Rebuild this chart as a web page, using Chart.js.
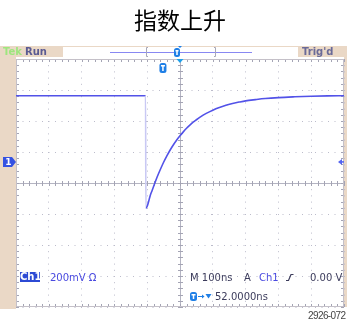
<!DOCTYPE html>
<html><head><meta charset="utf-8">
<script src="https://cdn.jsdelivr.net/npm/chart.js@4/dist/chart.umd.min.js"></script>
<style>
html,body{margin:0;padding:0;background:#fff;}
#wrap{position:relative;width:347px;height:323px;overflow:hidden;}
canvas{position:absolute;left:0;top:0;}
.t{position:absolute;white-space:nowrap;font-family:"DejaVu Sans",sans-serif;font-size:10px;line-height:10px;}
.b{font-weight:bold;}
</style></head><body>
<div id="wrap">
<canvas id="c" width="347" height="323"></canvas>
<div class="t b" style="left:3px;top:47px;color:#9ee67e;">Tek</div>
<div class="t b" style="left:25px;top:47px;color:#5a5a92;">Run</div>
<div class="t b" style="left:302px;top:47px;color:#6a6a98;">Trig'd</div>
<div class="t b" style="left:20px;top:272px;width:20px;height:10px;background:#2c4ad4;color:#fff;text-align:center;">Ch1</div>
<div class="t" style="left:50px;top:273px;color:#4a4ae0;">200mV Ω</div>
<div class="t" style="left:190px;top:273px;color:#3c3c5c;">M 100ns</div>
<div class="t" style="left:244px;top:273px;color:#3c3c5c;">A</div>
<div class="t" style="left:259px;top:273px;color:#4a4ae0;">Ch1</div>
<div class="t" style="left:310px;top:273px;color:#3c3c5c;">0.00 V</div>
<div class="t" style="left:215px;top:292px;color:#3c3c5c;">52.0000ns</div>
<div class="t" style="left:308px;top:311px;color:#444;font-family:'Liberation Sans',sans-serif;font-size:10px;letter-spacing:-0.6px;">2926-072</div>
</div>
<script>
// ---- data (time relative to screen centre, ns; Ch1 voltage, mV) ----
const timeNs = [-500, -105, -104, -100, -95, -90, -85, -80, -70, -60, -50, -40, -30, -20, -10, 0, 10, 20, 30, 40, 50, 60, 80, 100, 120, 140, 160, 180, 200, 230, 260, 300, 350, 400, 450, 500];
const ch1mV  = [ 427,  427, -298, -286, -250, -212, -184, -155, -99, -49, -2,  39,  77, 111, 142, 169, 194, 217, 237, 256, 272, 287, 313, 334, 351, 365, 377, 386, 394, 402, 409, 415, 420, 424, 426, 427];
const timeTicksNs = [-500, -400, -300, -200, -100, 0, 100, 200, 300, 400, 500];
const voltDivMV = 200;          // 200 mV/div
const groundAboveCentreDiv = 0.68;
const triggerTimeNs = -52;      // T -> 52.0000ns
const triggerLevelMV = 0;       // 0.00 V

const yMin = -(4 + groundAboveCentreDiv) * voltDivMV;
const yMax = (4 - groundAboveCentreDiv) * voltDivMV;
const voltTicksMV = [0,1,2,3,4,5,6,7,8].map(i => yMin + i * voltDivMV);

const TRACE = '#5252e8';
const FAINT = '#c9c9f4';

function roundRect(ctx, x, y, w, h, r){
  ctx.beginPath();
  ctx.moveTo(x+r,y); ctx.lineTo(x+w-r,y); ctx.quadraticCurveTo(x+w,y,x+w,y+r);
  ctx.lineTo(x+w,y+h-r); ctx.quadraticCurveTo(x+w,y+h,x+w-r,y+h);
  ctx.lineTo(x+r,y+h); ctx.quadraticCurveTo(x,y+h,x,y+h-r);
  ctx.lineTo(x,y+r); ctx.quadraticCurveTo(x,y,x+r,y); ctx.closePath();
}
function tIcon(ctx, cx, top, w, h){
  ctx.fillStyle = '#1f7fe6';
  roundRect(ctx, cx - w/2, top, w, h, 2.5); ctx.fill();
  ctx.fillStyle = '#fff';
  ctx.fillRect(cx - w/2 + 1.5, top + 2, w - 3, 1.5);
  ctx.fillRect(cx - 0.75, top + 2, 1.5, h - 4);
}

const scopePlugin = {
  id: 'scope',
  beforeDraw(chart){
    const {ctx, chartArea: a, width: W} = chart;
    ctx.save();
    ctx.fillStyle = '#fff'; ctx.fillRect(0, 0, W, chart.height);
    const tan = '#ead8c6';
    ctx.fillStyle = tan;
    ctx.fillRect(0, a.top - 13, a.left, a.bottom - a.top + 15);
    ctx.fillRect(0, a.top - 13, W, 11);
    ctx.fillRect(a.right, a.top - 13, W - a.right, a.bottom - a.top + 13);
    ctx.fillStyle = '#fff';
    ctx.fillRect(63, a.top - 12, 235, 10);
    ctx.strokeStyle = '#8888f2'; ctx.lineWidth = 1;
    ctx.beginPath(); ctx.moveTo(110, a.top - 6.5); ctx.lineTo(252, a.top - 6.5); ctx.stroke();
    ctx.strokeStyle = '#a8a8b8';
    ctx.beginPath();
    ctx.moveTo(148, a.top - 11.5); ctx.lineTo(146.5, a.top - 11.5); ctx.lineTo(146.5, a.top - 2.5); ctx.lineTo(148, a.top - 2.5);
    ctx.moveTo(214, a.top - 11.5); ctx.lineTo(215.5, a.top - 11.5); ctx.lineTo(215.5, a.top - 2.5); ctx.lineTo(214, a.top - 2.5);
    ctx.stroke();
    tIcon(ctx, 177, a.top - 11, 6, 9);
    ctx.fillStyle = '#1f7fe6';
    ctx.beginPath(); ctx.moveTo(178, a.top - 13); ctx.lineTo(182, a.top - 13); ctx.lineTo(180, a.top - 11); ctx.closePath(); ctx.fill();
    ctx.restore();
  },
  beforeDatasetsDraw(chart){
    const {ctx, chartArea: a, scales: {x, y}} = chart;
    ctx.save();
    ctx.lineWidth = 1;
    const minorX = (x.getPixelForValue(100) - x.getPixelForValue(0)) / 5;
    const minorY = (y.getPixelForValue(0) - y.getPixelForValue(voltDivMV)) / 5;
    const cx = Math.round(x.getPixelForValue(0)) + 0.5;
    const cy = Math.round(y.getPixelForValue(yMin + 4 * voltDivMV)) + 0.5;
    ctx.strokeStyle = '#b4b4c2';
    ctx.beginPath();
    ctx.moveTo(a.left, cy); ctx.lineTo(a.right, cy);
    ctx.moveTo(cx, a.top); ctx.lineTo(cx, a.bottom);
    ctx.stroke();
    ctx.strokeStyle = '#a4a4b4';
    ctx.beginPath();
    for (let px = a.left; px <= a.right + 0.5; px += minorX){
      const p = Math.round(px) + 0.5;
      ctx.moveTo(p, cy - 2.5); ctx.lineTo(p, cy + 2.5);
      ctx.moveTo(p, a.top); ctx.lineTo(p, a.top + 3);
      ctx.moveTo(p, a.bottom); ctx.lineTo(p, a.bottom - 3);
    }
    for (let py = a.top; py <= a.bottom + 0.5; py += minorY){
      const p = Math.round(py) + 0.5;
      ctx.moveTo(cx - 2.5, p); ctx.lineTo(cx + 2.5, p);
      ctx.moveTo(a.left, p); ctx.lineTo(a.left + 3, p);
      ctx.moveTo(a.right, p); ctx.lineTo(a.right - 3, p);
    }
    ctx.stroke();
    ctx.strokeStyle = '#c4c0c8';
    ctx.strokeRect(a.left + 0.5, a.top + 0.5, a.right - a.left - 1, a.bottom - a.top - 1);
    ctx.restore();
  },
  afterDatasetsDraw(chart){
    const {ctx, chartArea: a, scales: {x, y}} = chart;
    ctx.save();
    const cx = x.getPixelForValue(0);
    ctx.fillStyle = '#1fa0ea';
    ctx.beginPath(); ctx.moveTo(cx - 3.5, a.top); ctx.lineTo(cx + 3.5, a.top); ctx.lineTo(cx, a.top + 4); ctx.closePath(); ctx.fill();
    tIcon(ctx, x.getPixelForValue(triggerTimeNs), a.top + 4, 7, 10);
    const gy = y.getPixelForValue(0);
    ctx.fillStyle = '#3552e2';
    ctx.beginPath();
    ctx.moveTo(3, gy - 5); ctx.lineTo(12, gy - 5); ctx.lineTo(16, gy); ctx.lineTo(12, gy + 5); ctx.lineTo(3, gy + 5); ctx.closePath(); ctx.fill();
    ctx.fillStyle = '#fff';
    ctx.font = 'bold 9px "DejaVu Sans"'; ctx.textAlign = 'center'; ctx.textBaseline = 'middle';
    ctx.fillText('1', 8.5, gy + 0.5);
    const ty = y.getPixelForValue(triggerLevelMV);
    ctx.fillStyle = '#5464f0';
    ctx.beginPath(); ctx.moveTo(a.right - 6, ty); ctx.lineTo(a.right - 2, ty - 3); ctx.lineTo(a.right - 2, ty + 3); ctx.closePath(); ctx.fill();
    ctx.fillRect(a.right - 3, ty - 0.75, 3, 1.5);
    ctx.strokeStyle = '#3c3c5c'; ctx.lineWidth = 1.2;
    ctx.beginPath(); ctx.moveTo(286, 280.5); ctx.lineTo(288.5, 280.5); ctx.lineTo(291, 274.5); ctx.lineTo(293.5, 274.5); ctx.stroke();
    tIcon(ctx, 193.5, 292, 7, 9);
    ctx.strokeStyle = '#1f7fe6'; ctx.lineWidth = 1;
    ctx.beginPath(); ctx.moveTo(198, 296.5); ctx.lineTo(204, 296.5); ctx.stroke();
    ctx.fillStyle = '#1f7fe6';
    ctx.beginPath(); ctx.moveTo(202, 294.5); ctx.lineTo(204.5, 296.5); ctx.lineTo(202, 298.5); ctx.closePath(); ctx.fill();
    ctx.beginPath(); ctx.moveTo(205.5, 294); ctx.lineTo(211.5, 294); ctx.lineTo(208.5, 298.5); ctx.closePath(); ctx.fill();
    ctx.restore();
  }
};

new Chart(document.getElementById('c'), {
  type: 'line',
  data: {
    datasets: [{
      data: timeNs.map((t, i) => ({x: t, y: ch1mV[i]})),
      borderColor: TRACE,
      borderWidth: 1.6,
      pointRadius: 0,
      cubicInterpolationMode: 'monotone',
      segment: {
        borderColor: c => (c.p0.parsed.y - c.p1.parsed.y > 300 ? FAINT : TRACE)
      }
    }]
  },
  options: {
    responsive: false,
    animation: false,
    devicePixelRatio: 1,
    layout: {padding: {left: 16, right: 3, top: 0, bottom: 16}},
    plugins: {
      legend: {display: false},
      tooltip: {enabled: false},
      title: {
        display: true,
        text: '指数上升',
        color: '#000',
        font: {family: '"Noto Sans CJK SC"', size: 23, weight: 'normal', lineHeight: 1.2},
        padding: {top: 6, bottom: 25.4}
      }
    },
    scales: {
      x: {
        type: 'linear', min: -500, max: 500,
        afterBuildTicks: s => { s.ticks = timeTicksNs.map(v => ({value: v})); },
        ticks: {display: false},
        border: {display: false, dash: [1, 5.2]},
        grid: {color: '#bcbccb', drawTicks: false, lineWidth: 1}
      },
      y: {
        type: 'linear', min: yMin, max: yMax,
        afterBuildTicks: s => { s.ticks = voltTicksMV.map(v => ({value: v})); },
        ticks: {display: false},
        border: {display: false, dash: [1, 5.5]},
        grid: {color: '#bcbccb', drawTicks: false, lineWidth: 1}
      }
    }
  },
  plugins: [scopePlugin]
});
</script>
</body></html>
